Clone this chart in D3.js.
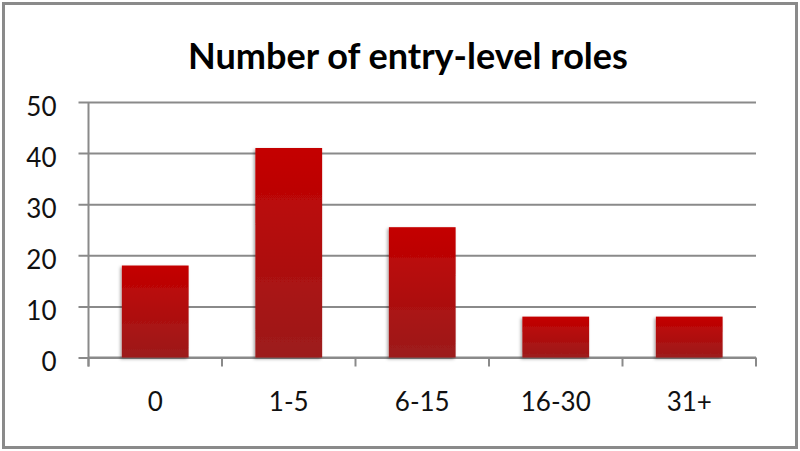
<!DOCTYPE html>
<html><head><meta charset="utf-8">
<script src="https://cdn.jsdelivr.net/npm/d3@7"></script>
<style>body{margin:0;background:#fff}svg{display:block}</style>
</head><body>
<svg id="c" width="800" height="451"></svg>
<script>
const title = "Number of entry-level roles";
const categories = ["0", "1-5", "6-15", "16-30", "31+"];
const values = [18, 41, 25.5, 8, 8];
const yTicks = [0, 10, 20, 30, 40, 50];

const svg = d3.select("#c");
const W = 800, H = 451;
const m = {left: 88.5, right: 756, top: 102, bottom: 357.5};

const defs = svg.append("defs");
const grad = defs.append("linearGradient").attr("id","bg").attr("x1",0).attr("y1",0).attr("x2",0).attr("y2",1);
grad.append("stop").attr("offset","0%").attr("stop-color","#c40000");
grad.append("stop").attr("offset","100%").attr("stop-color","#9c1c1c");
const f = defs.append("filter").attr("id","sh").attr("x","-20%").attr("y","-20%").attr("width","140%").attr("height","140%");
f.append("feDropShadow").attr("dx",-1.5).attr("dy",1.5).attr("stdDeviation",1.5).attr("flood-color","#000").attr("flood-opacity",0.35);

svg.append("rect").attr("x",3.5).attr("y",3.5).attr("width",W-7).attr("height",H-7)
  .attr("fill","#fff").attr("stroke","#8a8a8a").attr("stroke-width",3);

const x = d3.scaleBand().domain(categories).range([m.left, m.right]).paddingInner(0.5).paddingOuter(0.25);
const y = d3.scaleLinear().domain([0, 50]).range([m.bottom, m.top]);

// gridlines via y axis
const yAxis = d3.axisLeft(y).tickValues(yTicks).tickSize(-(m.right - m.left)).tickSizeOuter(0).tickPadding(22);
const gy = svg.append("g").attr("transform", `translate(${m.left},0)`).call(yAxis);
gy.select(".domain").remove();
gy.selectAll(".tick line").attr("x1", -10).attr("stroke","#8a8a8a").attr("stroke-width",2);
gy.selectAll(".tick text").attr("font-family","Lato, 'Open Sans', sans-serif").attr("font-size",26)
  .attr("fill","#111").attr("dy","0.7em").attr("y",-5).attr("x",-32);

// y axis line
svg.append("line").attr("x1",m.left).attr("x2",m.left).attr("y1",m.top).attr("y2",m.bottom+9)
  .attr("stroke","#8a8a8a").attr("stroke-width",2);

// x axis category boundary ticks
const bounds = categories.map(c => x(c) - x.step()*x.paddingInner()/2 ).concat([m.right]);
bounds[0] = m.left;
svg.append("g").selectAll("line").data(bounds).join("line")
  .attr("x1",d=>d).attr("x2",d=>d).attr("y1",m.bottom).attr("y2",m.bottom+9)
  .attr("stroke","#8a8a8a").attr("stroke-width",2);

// x labels
const xAxis = d3.axisBottom(x).tickSize(0).tickPadding(0);
const gx = svg.append("g").attr("transform", `translate(0,${m.bottom})`).call(xAxis);
gx.select(".domain").attr("stroke","#8a8a8a").attr("stroke-width",2).attr("d", `M${m.left},0H${m.right}`);
gx.selectAll(".tick text").attr("font-family","Lato, 'Open Sans', sans-serif").attr("font-size",26)
  .attr("fill","#111").attr("dy",0).attr("y",53);

// bars
svg.append("g").selectAll("rect").data(values).join("rect")
  .attr("x",(d,i)=>x(categories[i])).attr("width",x.bandwidth())
  .attr("y",d=>y(d)).attr("height",d=>y(0)-y(d))
  .attr("fill","url(#bg)").attr("filter","url(#sh)");

// title
const t = svg.append("text").attr("x",408).attr("y",68.5).attr("text-anchor","middle")
  .attr("font-family","Lato, 'Open Sans', sans-serif").attr("font-weight","bold")
  .attr("font-size",32).attr("fill","#000").text(title);
const len = t.node().getComputedTextLength();
t.attr("font-size", 32 * 440 / len);
</script>
</body></html>
